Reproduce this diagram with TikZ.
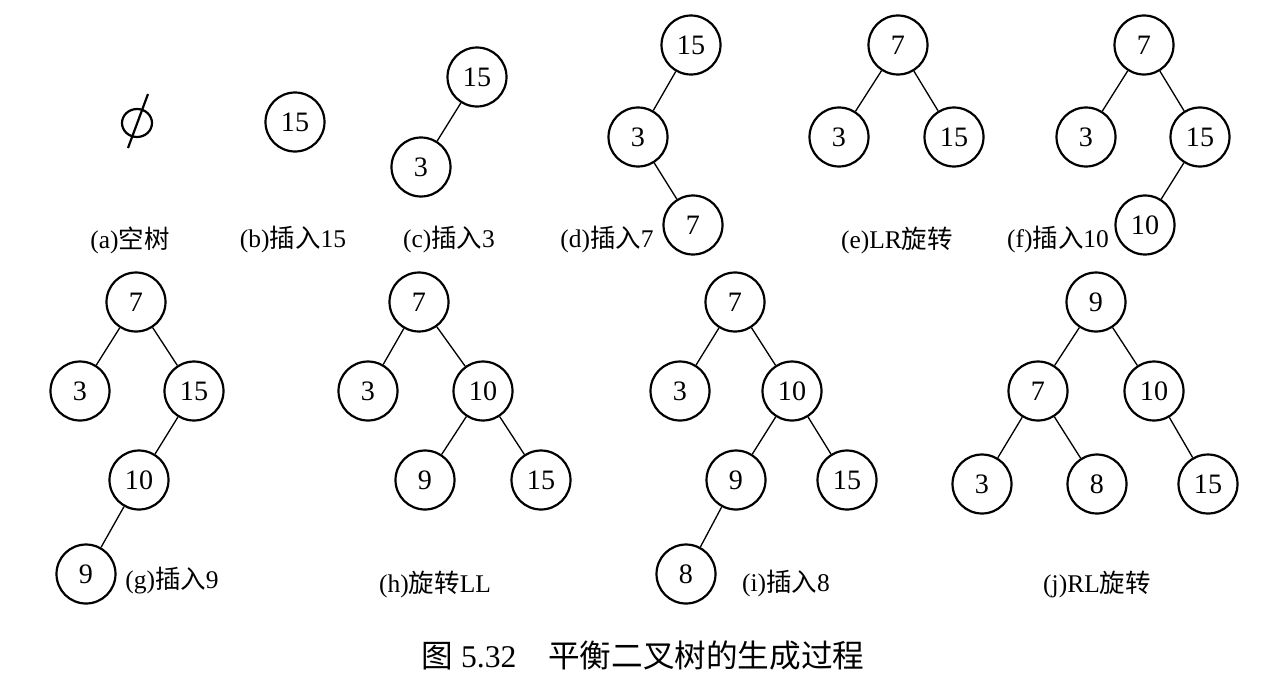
\documentclass[tikz,border=0pt]{standalone}
\usepackage{fontspec}
\setmainfont{Liberation Serif}
\newfontfamily\cjk{Noto Sans CJK SC}
\tikzset{
  bnode/.style={draw, circle, line width=1.25pt, minimum size=1.18cm, inner sep=0pt, font=\fontsize{16}{18}\selectfont},
  link/.style={line width=0.75pt},
  sublabel/.style={font=\fontsize{14.5}{16}\selectfont, inner sep=0pt}
}
\begin{document}
\begin{tikzpicture}[x=0.02cm, y=-0.02cm]
  \useasboundingbox (0,0) rectangle (1261,673);
  \draw[line width=1.25pt] (137,123) ellipse [x radius=0.3cm, y radius=0.28cm];
  \draw[line width=1.25pt] (148,94) -- (128,148);
  \node[bnode] (b15) at (295,122) {15};
  \node[bnode] (c15) at (477,77) {15};
  \node[bnode] (c3) at (421,167) {3};
  \node[bnode] (d15) at (691,45) {15};
  \node[bnode] (d3) at (638,137) {3};
  \node[bnode] (d7) at (693,225) {7};
  \node[bnode] (e7) at (898,45) {7};
  \node[bnode] (e3) at (839,137) {3};
  \node[bnode] (e15) at (954,137) {15};
  \node[bnode] (f7) at (1144,45) {7};
  \node[bnode] (f3) at (1086,137) {3};
  \node[bnode] (f15) at (1200,137) {15};
  \node[bnode] (f10) at (1145,225) {10};
  \node[bnode] (g7) at (136,302) {7};
  \node[bnode] (g3) at (80,391) {3};
  \node[bnode] (g15) at (194,391) {15};
  \node[bnode] (g10) at (139,480) {10};
  \node[bnode] (g9) at (86,574) {9};
  \node[bnode] (h7) at (419,302) {7};
  \node[bnode] (h3) at (368,391) {3};
  \node[bnode] (h10) at (483,391) {10};
  \node[bnode] (h9) at (425,480) {9};
  \node[bnode] (h15) at (541,480) {15};
  \node[bnode] (i7) at (735,302) {7};
  \node[bnode] (i3) at (680,391) {3};
  \node[bnode] (i10) at (792,391) {10};
  \node[bnode] (i9) at (736,480) {9};
  \node[bnode] (i15) at (847,480) {15};
  \node[bnode] (i8) at (686,574) {8};
  \node[bnode] (j9) at (1096,302) {9};
  \node[bnode] (j7) at (1038,391) {7};
  \node[bnode] (j10) at (1154,391) {10};
  \node[bnode] (j3) at (982,484) {3};
  \node[bnode] (j8) at (1097,484) {8};
  \node[bnode] (j15) at (1208,484) {15};
  \foreach \p/\q in {c15/c3, d15/d3, d3/d7, e7/e3, e7/e15, f7/f3, f7/f15, f15/f10,
      g7/g3, g7/g15, g15/g10, g10/g9, h7/h3, h7/h10, h10/h9, h10/h15,
      i7/i3, i7/i10, i10/i9, i10/i15, i9/i8, j9/j7, j9/j10, j7/j3, j7/j8, j10/j15}
    \draw[link] (\p) -- (\q);
  \node[sublabel] (la) at (130,240) {(a){\cjk 空树}};
  \node[sublabel] (lb) at (293,240) {(b){\cjk 插入}15};
  \node[sublabel] (lc) at (449,240) {(c){\cjk 插入}3};
  \node[sublabel] (ld) at (607,240) {(d){\cjk 插入}7};
  \node[sublabel] (le) at (897,240) {(e)LR{\cjk 旋转}};
  \node[sublabel] (lf) at (1058,240) {(f){\cjk 插入}10};
  \node[sublabel] (lg) at (172,581) {(g){\cjk 插入}9};
  \node[sublabel] (lh) at (435,584) {(h){\cjk 旋转}LL};
  \node[sublabel] (li) at (786,584) {(i){\cjk 插入}8};
  \node[sublabel] (lj) at (1097,584) {(j)RL{\cjk 旋转}};
  \node[font=\fontsize{18}{20}\selectfont, inner sep=0pt] (title) at (643,656) {{\cjk 图} 5.32\quad{\cjk 平衡二叉树的生成过程}};
\end{tikzpicture}
\end{document}
